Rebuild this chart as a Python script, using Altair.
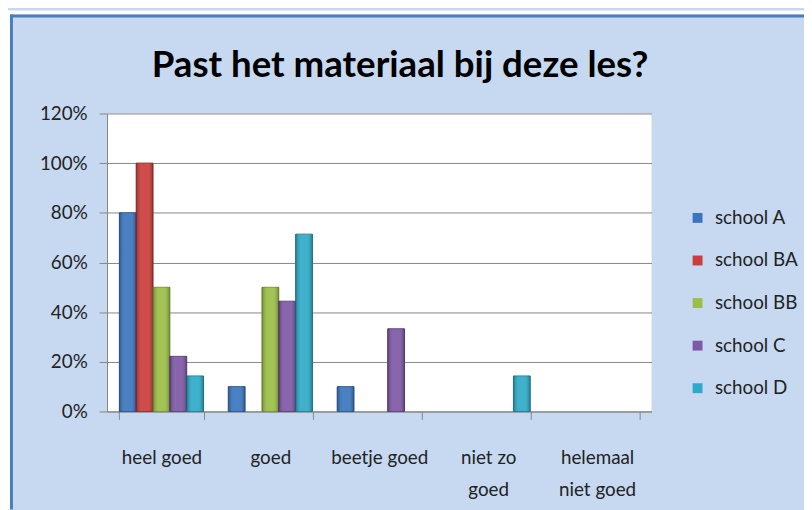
import altair as alt
import pandas as pd

categories = ["heel goed", "goed", "beetje goed", "niet zo goed", "helemaal niet goed"]
schools = ["school A", "school BA", "school BB", "school C", "school D"]
school_a = [0.80, 0.10, 0.10, 0.0, 0.0]
school_ba = [1.00, 0.0, 0.0, 0.0, 0.0]
school_bb = [0.50, 0.50, 0.0, 0.0, 0.0]
school_c = [0.222, 0.444, 0.333, 0.0, 0.0]
school_d = [0.143, 0.714, 0.0, 0.143, 0.0]
y_ticks = [0, 0.2, 0.4, 0.6, 0.8, 1.0, 1.2]
title_text = "Past het materiaal bij deze les?"

fill_colors = ["#3a76c0", "#cc3d3b", "#9bbf45", "#7f58a6", "#2eabc9"]
stroke_colors = ["#2a5a96", "#9c2c2a", "#789434", "#5f4180", "#1f8299"]

series = [school_a, school_ba, school_bb, school_c, school_d]
rows = []
for s, vals in zip(schools, series):
    for c, v in zip(categories, vals):
        if v > 0:
            rows.append({"categorie": c, "school": s, "waarde": v})
df = pd.DataFrame(rows)

label_expr = ("datum.value == 'niet zo goed' ? ['niet zo', 'goed'] : "
              "datum.value == 'helemaal niet goed' ? ['helemaal', 'niet goed'] : datum.value")

x_enc = alt.X("categorie:N", sort=categories,
              scale=alt.Scale(domain=categories, paddingInner=0.227, paddingOuter=0.1135),
              axis=alt.Axis(title=None, labelAngle=0, labelExpr=label_expr, tickBand="extent",
                            labelFont="Lato", labelFontSize=19, labelColor="#222222",
                            labelPadding=30, labelLineHeight=32, labelBaseline="top",
                            tickSize=8, tickColor="#868686", domainColor="#868686",
                            labelLimit=200))
xo_enc = alt.XOffset("school:N", sort=schools,
                     scale=alt.Scale(domain=schools, paddingInner=0, paddingOuter=0))
y_enc = alt.Y("waarde:Q",
              scale=alt.Scale(domain=[0, 1.2], nice=False),
              axis=alt.Axis(title=None, values=y_ticks, format=".0%",
                            labelFont="Lato", labelFontSize=19, labelColor="#222222",
                            labelPadding=12, tickSize=8, tickColor="#868686",
                            domainColor="#868686", gridColor="#868686", gridWidth=1))

bars = alt.Chart(df).mark_bar(strokeWidth=1).encode(
    x=x_enc, xOffset=xo_enc, y=y_enc,
    color=alt.Color("school:N", sort=schools,
                    scale=alt.Scale(domain=schools, range=fill_colors),
                    legend=alt.Legend(title=None, orient="none", legendX=587, legendY=96,
                                      symbolType="square", symbolSize=100,
                                      symbolStrokeWidth=0, labelFont="Lato",
                                      labelFontSize=19, labelColor="#222222",
                                      rowPadding=23, labelOffset=8)),
    stroke=alt.Stroke("school:N", sort=schools,
                      scale=alt.Scale(domain=schools, range=stroke_colors), legend=None),
)

shade = alt.Chart(df).mark_bar(
    color=alt.Gradient(
        gradient="linear", x1=0, x2=1, y1=0, y2=0,
        stops=[alt.GradientStop(color="rgba(0,0,0,0.28)", offset=0),
               alt.GradientStop(color="rgba(255,255,255,0.08)", offset=0.35),
               alt.GradientStop(color="rgba(255,255,255,0.08)", offset=0.65),
               alt.GradientStop(color="rgba(0,0,0,0.28)", offset=1)])
).encode(x=x_enc, xOffset=xo_enc, y=y_enc)

one = alt.Data(values=[{"k": 1}])
white_top = alt.Chart(one).mark_rule(color="white", strokeWidth=4).encode(
    x=alt.value(-100), x2=alt.value(710), y=alt.value(-102))
white_left = alt.Chart(one).mark_rule(color="white", strokeWidth=2).encode(
    x=alt.value(-99), y=alt.value(-104), y2=alt.value(400))
border_top = alt.Chart(one).mark_rule(color="#4a7ebb", strokeWidth=3).encode(
    x=alt.value(-98), x2=alt.value(710), y=alt.value(-98.5))
border_left = alt.Chart(one).mark_rule(color="#4a7ebb", strokeWidth=3).encode(
    x=alt.value(-96.5), y=alt.value(-100), y2=alt.value(400))
title = alt.Chart(one).mark_text(font="Lato", fontSize=37, fontWeight="bold",
                                 color="#000000", align="center",
                                 baseline="alphabetic").encode(
    x=alt.value(296), y=alt.value(-37), text=alt.value(title_text))

chart = alt.layer(bars, shade, white_top, white_left, border_top, border_left, title).properties(
    width=550, height=301,
    autosize=alt.AutoSizeParams(type="none"),
    padding={"left": 100, "top": 104, "right": 154, "bottom": 97},
    background="#c6d9f1",
).configure_view(fill="white", stroke=None)

chart.save("out.html", embed_options={"renderer": "svg", "actions": False})
